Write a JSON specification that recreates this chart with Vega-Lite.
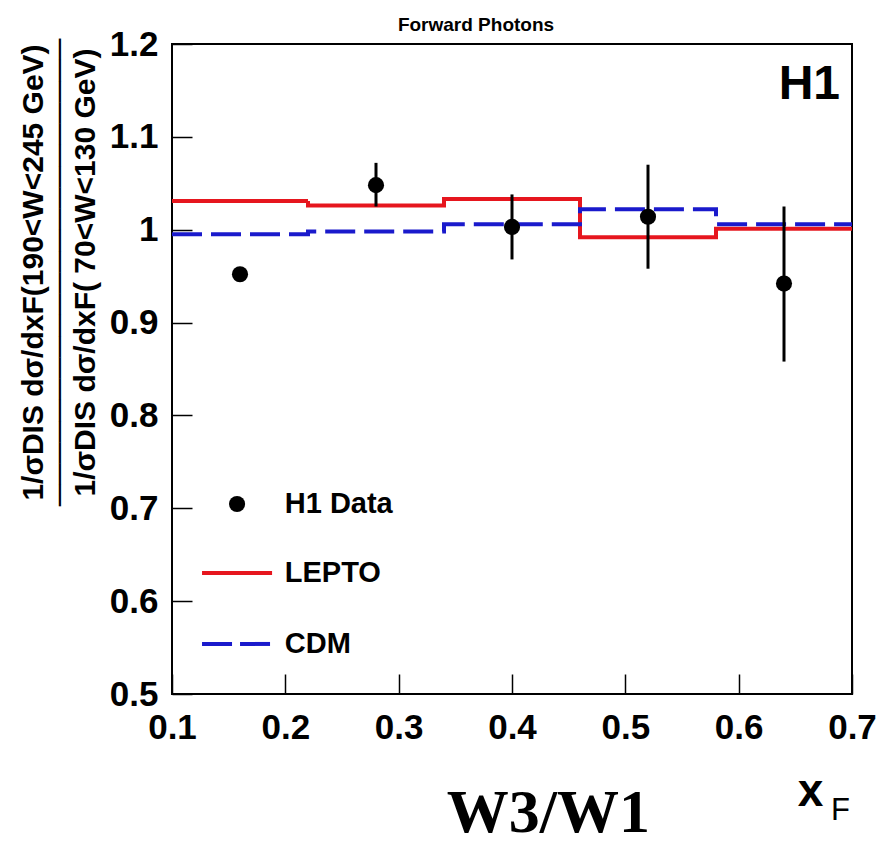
{
  "$schema": "https://vega.github.io/schema/vega-lite/v6.json",
  "background": "white",
  "padding": {"left": 17, "top": 16, "right": 20, "bottom": 0},
  "title": {
    "text": "Forward Photons",
    "font": "Liberation Sans",
    "fontSize": 19,
    "fontWeight": "bold",
    "color": "black",
    "anchor": "middle",
    "dx": -36,
    "offset": -8
  },
  "config": {
    "view": {"stroke": "black", "strokeWidth": 2}
  },
  "datasets": {
    "h1": [
      {"series": "H1 Data", "xF": 0.16, "ratio": 0.952, "lo": 0.946, "hi": 0.958},
      {"series": "H1 Data", "xF": 0.28, "ratio": 1.048, "lo": 1.025, "hi": 1.072},
      {"series": "H1 Data", "xF": 0.40, "ratio": 1.003, "lo": 0.968, "hi": 1.038},
      {"series": "H1 Data", "xF": 0.52, "ratio": 1.014, "lo": 0.958, "hi": 1.070},
      {"series": "H1 Data", "xF": 0.64, "ratio": 0.942, "lo": 0.858, "hi": 1.025}
    ],
    "models": [
      {"series": "LEPTO", "bin": 1, "x0": 0.10, "x1": 0.22, "ratio": 1.031},
      {"series": "LEPTO", "bin": 2, "x0": 0.22, "x1": 0.34, "ratio": 1.026},
      {"series": "LEPTO", "bin": 3, "x0": 0.34, "x1": 0.46, "ratio": 1.033},
      {"series": "LEPTO", "bin": 4, "x0": 0.46, "x1": 0.58, "ratio": 0.992},
      {"series": "LEPTO", "bin": 5, "x0": 0.58, "x1": 0.70, "ratio": 1.001},
      {"series": "CDM", "bin": 1, "x0": 0.10, "x1": 0.22, "ratio": 0.995},
      {"series": "CDM", "bin": 2, "x0": 0.22, "x1": 0.34, "ratio": 0.998},
      {"series": "CDM", "bin": 3, "x0": 0.34, "x1": 0.46, "ratio": 1.006},
      {"series": "CDM", "bin": 4, "x0": 0.46, "x1": 0.58, "ratio": 1.022},
      {"series": "CDM", "bin": 5, "x0": 0.58, "x1": 0.70, "ratio": 1.006}
    ]
  },
  "width": 680,
  "height": 650,
  "layer": [
    {
      "data": {"name": "models"},
      "transform": [{"fold": ["x0", "x1"], "as": ["edge", "xF"]}],
      "mark": {"type": "line", "strokeWidth": 4, "strokeCap": "butt", "strokeJoin": "miter"},
      "encoding": {
        "x": {
          "field": "xF",
          "type": "quantitative",
          "scale": {"domain": [0.1, 0.7], "nice": false, "zero": false},
          "axis": {
            "values": [0.1, 0.2, 0.3, 0.4, 0.5, 0.6, 0.7],
            "labelExpr": "format(datum.value, '.1f')",
            "domain": false,
            "grid": false,
            "tickSize": -20,
            "tickColor": "black",
            "tickWidth": 1.5,
            "labelFont": "Liberation Sans",
            "labelFontSize": 35,
            "labelFontWeight": "bold",
            "labelColor": "black",
            "labelPadding": 36,
            "labelOverlap": false,
            "labelBound": false,
            "labelFlush": false,
            "title": "x",
            "titleFont": "Liberation Sans",
            "titleFontSize": 46,
            "titleFontWeight": "bold",
            "titleColor": "black",
            "titleX": 638,
            "titleY": 111,
            "titleAlign": "center",
            "titleBaseline": "alphabetic"
          }
        },
        "y": {
          "field": "ratio",
          "type": "quantitative",
          "scale": {"domain": [0.5, 1.2], "nice": false, "zero": false},
          "axis": {
            "values": [0.5, 0.6, 0.7, 0.8, 0.9, 1.0, 1.1, 1.2],
            "labelExpr": "format(datum.value, '.1~f')",
            "tickSize": -20,
            "tickColor": "black",
            "tickWidth": 1.5,
            "domain": false,
            "grid": false,
            "labelFont": "Liberation Sans",
            "labelFontSize": 35,
            "labelFontWeight": "bold",
            "labelColor": "black",
            "labelPadding": 34,
            "labelOverlap": false,
            "labelBound": false,
            "labelFlush": false,
            "title": ["1/σDIS dσ/dxF(190<W<245 GeV)", "──────────────────────", "1/σDIS dσ/dxF( 70<W<130 GeV)"],
            "titleFont": "Liberation Sans",
            "titleFontSize": 30,
            "titleFontWeight": "bold",
            "titleColor": "black",
            "titleAngle": -90,
            "titleX": -139,
            "titleY": 228,
            "titleAlign": "center",
            "titleBaseline": "middle",
            "titleLineHeight": 26
          }
        },
        "order": [{"field": "bin", "type": "quantitative"}, {"field": "edge", "type": "nominal"}],
        "color": {
          "field": "series",
          "type": "nominal",
          "scale": {"domain": ["LEPTO", "CDM"], "range": ["#e6161e", "#1a1acc"]},
          "legend": null
        },
        "strokeDash": {
          "field": "series",
          "type": "nominal",
          "scale": {"domain": ["LEPTO", "CDM"], "range": [[1, 0], [30, 9]]},
          "legend": null
        }
      }
    },
    {
      "data": {"name": "h1"},
      "mark": {"type": "rule", "strokeWidth": 3, "color": "black"},
      "encoding": {
        "x": {"field": "xF", "type": "quantitative"},
        "y": {"field": "lo", "type": "quantitative"},
        "y2": {"field": "hi"}
      }
    },
    {
      "data": {"name": "h1"},
      "mark": {"type": "point", "filled": true, "size": 260, "opacity": 1, "color": "black"},
      "encoding": {
        "x": {"field": "xF", "type": "quantitative"},
        "y": {"field": "ratio", "type": "quantitative"}
      }
    },
    {
      "data": {"values": [{}]},
      "mark": {"type": "point", "filled": true, "size": 260, "opacity": 1, "color": "black"},
      "encoding": {
        "x": {"datum": 0.1574, "type": "quantitative"},
        "y": {"datum": 0.7046, "type": "quantitative"}
      }
    },
    {
      "data": {"values": [{}]},
      "mark": {"type": "rule", "strokeWidth": 4, "color": "#e6161e", "strokeCap": "butt"},
      "encoding": {
        "x": {"datum": 0.1265, "type": "quantitative"},
        "x2": {"datum": 0.1883},
        "y": {"datum": 0.6303, "type": "quantitative"}
      }
    },
    {
      "data": {"values": [{}]},
      "mark": {"type": "rule", "strokeWidth": 4, "color": "#1a1acc", "strokeCap": "butt", "strokeDash": [30, 8]},
      "encoding": {
        "x": {"datum": 0.1265, "type": "quantitative"},
        "x2": {"datum": 0.1883},
        "y": {"datum": 0.5539, "type": "quantitative"}
      }
    },
    {
      "data": {"values": [{}]},
      "mark": {"type": "text", "text": "H1 Data", "font": "Liberation Sans", "fontSize": 29, "fontWeight": "bold", "color": "black", "align": "left", "baseline": "middle"},
      "encoding": {
        "x": {"datum": 0.1995, "type": "quantitative"},
        "y": {"datum": 0.7046, "type": "quantitative"}
      }
    },
    {
      "data": {"values": [{}]},
      "mark": {"type": "text", "text": "LEPTO", "font": "Liberation Sans", "fontSize": 29, "fontWeight": "bold", "color": "black", "align": "left", "baseline": "middle"},
      "encoding": {
        "x": {"datum": 0.1995, "type": "quantitative"},
        "y": {"datum": 0.6303, "type": "quantitative"}
      }
    },
    {
      "data": {"values": [{}]},
      "mark": {"type": "text", "text": "CDM", "font": "Liberation Sans", "fontSize": 29, "fontWeight": "bold", "color": "black", "align": "left", "baseline": "middle"},
      "encoding": {
        "x": {"datum": 0.1995, "type": "quantitative"},
        "y": {"datum": 0.5539, "type": "quantitative"}
      }
    },
    {
      "data": {"values": [{}]},
      "mark": {"type": "text", "text": "H1", "font": "Liberation Sans", "fontSize": 48, "fontWeight": "bold", "color": "black", "align": "right", "baseline": "alphabetic", "dx": -12, "dy": 55},
      "encoding": {
        "x": {"datum": 0.7, "type": "quantitative"},
        "y": {"datum": 1.2, "type": "quantitative"}
      }
    },
    {
      "data": {"values": [{}]},
      "mark": {"type": "text", "text": "F", "font": "Liberation Sans", "fontSize": 31, "color": "black", "align": "left", "baseline": "alphabetic", "dx": -21, "dy": 126},
      "encoding": {
        "x": {"datum": 0.7, "type": "quantitative"},
        "y": {"datum": 0.5, "type": "quantitative"}
      }
    },
    {
      "data": {"values": [{}]},
      "mark": {"type": "text", "text": "W3/W1", "font": "Liberation Serif", "fontSize": 62, "fontWeight": "bold", "color": "black", "align": "center", "baseline": "alphabetic", "dy": 138},
      "encoding": {
        "x": {"datum": 0.432, "type": "quantitative"},
        "y": {"datum": 0.5, "type": "quantitative"}
      }
    }
  ]
}
